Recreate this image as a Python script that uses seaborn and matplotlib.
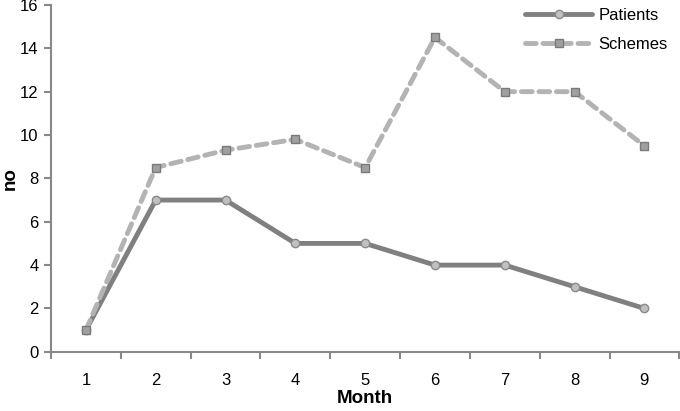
import numpy as np
import pandas as pd
import matplotlib
matplotlib.use("Agg")
import matplotlib.pyplot as plt
import seaborn as sns

months = [1, 2, 3, 4, 5, 6, 7, 8, 9]
patients = [1, 7, 7, 5, 5, 4, 4, 3, 2]
schemes = [1, 8.5, 9.3, 9.8, 8.5, 14.5, 12, 12, 9.5]

df = pd.DataFrame({"Month": months, "Patients": patients, "Schemes": schemes})

sns.set_style("white")
plt.rcParams["font.family"] = ["Liberation Sans", "DejaVu Sans"]
plt.rcParams["text.color"] = "black"
plt.rcParams["axes.labelcolor"] = "black"
plt.rcParams["xtick.color"] = "black"
plt.rcParams["ytick.color"] = "black"

fig = plt.figure(figsize=(6.8, 4.11), dpi=100)
ax = fig.add_axes([0.075, 0.144, 0.924, 0.844])

sns.lineplot(data=df, x="Month", y="Patients", ax=ax, color="#808080", lw=3.5,
             marker="o", markersize=6, markerfacecolor="#c0c0c0",
             markeredgecolor="#8a8a8a", markeredgewidth=1, label="Patients")
sns.lineplot(data=df, x="Month", y="Schemes", ax=ax, color="#b3b3b3", lw=3.5,
             linestyle=(0, (2.2, 1.4)), dash_capstyle="round",
             marker="s", markersize=6, markerfacecolor="#a0a0a0",
             markeredgecolor="#7a7a7a", markeredgewidth=1, label="Schemes")

ax.set_xlim(0.5, 9.5)
ax.set_ylim(0, 16)
ax.set_yticks(range(0, 17, 2))
ax.set_xticks(months)
ax.set_xticks(np.arange(0.5, 9.6, 1), minor=True)
ax.tick_params(axis="x", which="major", bottom=False, length=0, pad=15, labelsize=12)
ax.tick_params(axis="x", which="minor", bottom=True, length=5, width=1.5, color="#888888", direction="out")
ax.tick_params(axis="y", left=True, length=5, width=1.5, color="#888888", direction="out", labelsize=12, pad=4)

for s in ["top", "right"]:
    ax.spines[s].set_visible(False)
for s in ["left", "bottom"]:
    ax.spines[s].set_color("#888888")
    ax.spines[s].set_linewidth(1.5)

ax.set_xlabel("Month", fontsize=13.5, fontweight="bold", labelpad=2)
ax.set_ylabel("no", fontsize=13.5, fontweight="bold", labelpad=1)

leg = ax.legend(loc="upper right", frameon=False, fontsize=12, handlelength=4,
                borderaxespad=0.1, labelspacing=0.85, handletextpad=0.4,
                bbox_to_anchor=(0.995, 1.015))

fig.savefig("out.png", dpi=100)
